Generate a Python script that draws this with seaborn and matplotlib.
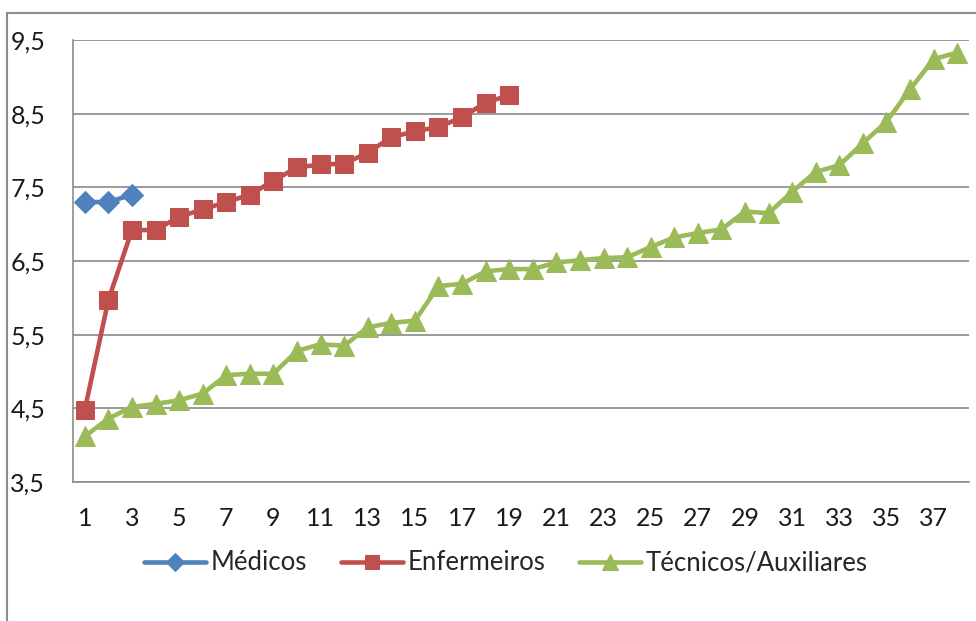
import seaborn as sns
import matplotlib.pyplot as plt
import pandas as pd
import numpy as np
from matplotlib.patches import Rectangle

sns.set_style("white")
plt.rcParams['font.family'] = ['Lato', 'DejaVu Sans']

# Values
medicos = [7.30, 7.30, 7.40]
enfermeiros = [4.48, 5.97, 6.92, 6.92, 7.10, 7.20, 7.30, 7.40, 7.59, 7.77,
               7.81, 7.82, 7.97, 8.18, 8.26, 8.32, 8.45, 8.65, 8.75]
tecnicos = [4.12, 4.36, 4.52, 4.56, 4.61, 4.70, 4.95, 4.97, 4.97, 5.28,
            5.37, 5.35, 5.60, 5.66, 5.69, 6.16, 6.19, 6.36, 6.39, 6.39,
            6.48, 6.51, 6.54, 6.55, 6.69, 6.82, 6.88, 6.93, 7.17, 7.15,
            7.44, 7.71, 7.80, 8.10, 8.39, 8.83, 9.24, 9.33]

series_names = ['Médicos', 'Enfermeiros', 'Técnicos/Auxiliares']
series_values = [medicos, enfermeiros, tecnicos]
colors = ['#4F81BD', '#C0504D', '#9BBB59']
markers = ['D', 's', '^']
marker_sizes = [11, 13, 14]

y_ticks = [3.5, 4.5, 5.5, 6.5, 7.5, 8.5, 9.5]
y_labels = ['3,5', '4,5', '5,5', '6,5', '7,5', '8,5', '9,5']
n_cats = 38

fig = plt.figure(figsize=(9.76, 6.21), dpi=100)
ax = fig.add_axes([73 / 976, 1 - 482 / 621, (969 - 73) / 976, (482 - 40) / 621])

for name, vals, col, mk, ms in zip(series_names, series_values, colors, markers, marker_sizes):
    df = pd.DataFrame({'x': np.arange(1, len(vals) + 1), 'y': vals})
    sns.lineplot(data=df, x='x', y='y', ax=ax, color=col, marker=mk,
                 markersize=ms, markeredgecolor=col, linewidth=3.3, label=name)

ax.set_xlim(0.5, n_cats + 0.5)
ax.set_ylim(3.5, 9.5)
ax.set_xlabel('')
ax.set_ylabel('')

# x: labels on odd categories, tick marks between categories
ax.set_xticks(range(1, n_cats + 1))
ax.set_xticklabels([str(i) if i % 2 == 1 else '' for i in range(1, n_cats + 1)])
ax.set_xticks(np.arange(0.5, n_cats + 1, 1), minor=True)
ax.tick_params(axis='x', which='major', length=0, pad=18, labelsize=18, labelcolor='#1a1a1a')
ax.tick_params(axis='x', which='minor', length=7, width=1.2, color='#8c8c8c', direction='out')

ax.set_yticks(y_ticks)
ax.set_yticklabels(y_labels)
ax.tick_params(axis='y', length=7, width=1.2, color='#8c8c8c', pad=13, labelsize=18,
               labelcolor='#1a1a1a', direction='out')

ax.yaxis.grid(True, color='#9a9a9a', linewidth=1.4)
ax.set_axisbelow(True)
for s in ['top', 'right']:
    ax.spines[s].set_visible(False)
for s in ['left', 'bottom']:
    ax.spines[s].set_color('#8c8c8c')
    ax.spines[s].set_linewidth(1.2)

handles, labels = ax.get_legend_handles_labels()
ax.get_legend().remove()
fig.legend(handles, labels, loc='center', bbox_to_anchor=(506 / 976, 1 - 563 / 621), ncol=3,
           frameon=False, fontsize=18.5, handlelength=2.4, handletextpad=0.2,
           columnspacing=1.3, numpoints=1, markerscale=0.8)

# outer chart border (cropped on right and bottom)
fig.add_artist(Rectangle((7 / 976, -0.2), 2, 1 - 13 / 621 + 0.2, transform=fig.transFigure,
                         fill=False, edgecolor='#8c8c8c', linewidth=1.5))

plt.savefig('out.png', dpi=100, facecolor='white')
plt.close()
